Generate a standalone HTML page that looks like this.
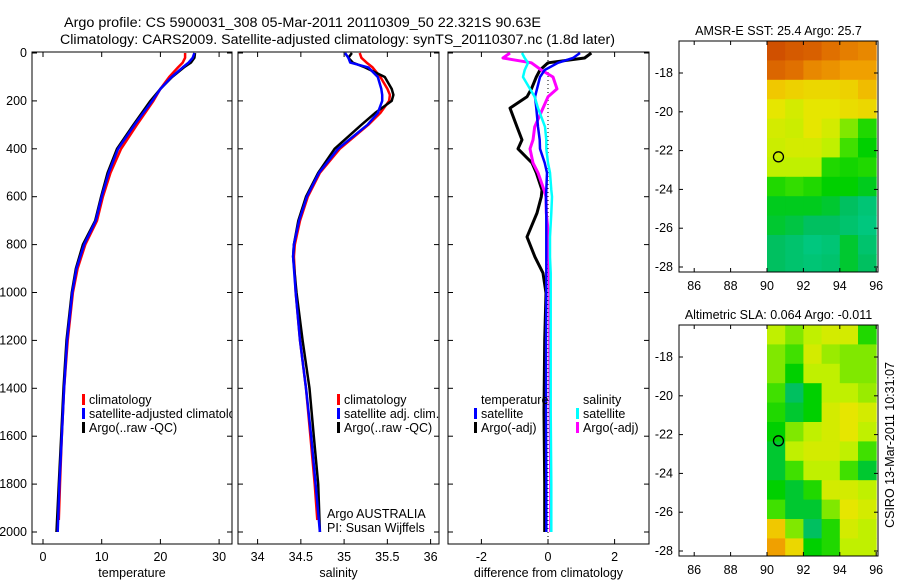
<!DOCTYPE html>
<html><head><meta charset="utf-8"><style>
html,body{margin:0;padding:0;background:#fff;}
svg{display:block;font-family:"Liberation Sans",sans-serif;font-size:12.5px;}
</style></head><body>
<svg id="fig" width="900" height="580" viewBox="0 0 900 580">
<text x="64" y="27" textLength="477" lengthAdjust="spacingAndGlyphs" font-size="13.5">Argo profile: CS 5900031_308 05-Mar-2011 20110309_50 22.321S 90.63E</text>
<text x="60" y="44" textLength="555" lengthAdjust="spacingAndGlyphs" font-size="13.5">Climatology: CARS2009. Satellite-adjusted climatology: synTS_20110307.nc (1.8d later)</text>
<g id="g"></g>
</svg>
<script>
// ---- data ----
const tDepth=[0,20,40,60,100,150,200,300,400,500,600,700,800,900,1000,1200,1400,1600,1800,2000];
const tClim=[24.2,24.2,23.8,23.0,21.5,20.0,18.8,16.0,13.3,11.5,10.2,9.2,7.2,5.9,5.1,4.2,3.6,3.2,2.9,2.7];
const tSat =[25.8,25.5,24.8,23.8,21.9,20.0,18.6,15.6,12.8,11.2,10.0,9.0,7.0,5.7,5.0,4.1,3.6,3.2,2.8,2.5];
const tArgo=[25.9,25.8,25.2,24.0,22.0,20.0,18.3,15.4,12.6,11.0,9.9,8.9,6.8,5.6,4.9,4.0,3.5,3.1,2.7,2.3];
const sDepth=[0,20,40,60,100,150,175,200,250,300,400,500,600,700,800,850,1000,1200,1400,1600,1800,1950];
const sClim=[35.18,35.2,35.26,35.33,35.42,35.5,35.53,35.52,35.42,35.28,34.95,34.72,34.58,34.49,34.43,34.42,34.44,34.49,34.56,34.61,34.66,34.69];
const sSat =[35.01,35.05,35.07,35.28,35.39,35.43,35.44,35.44,35.39,35.27,34.93,34.71,34.57,34.48,34.42,34.41,34.44,34.49,34.56,34.62,34.67,34.72];
const sArgo=[35.09,35.05,35.1,35.24,35.47,35.55,35.57,35.55,35.36,35.2,34.89,34.7,34.56,34.47,34.42,34.41,34.45,34.52,34.6,34.65,34.7,34.72];
const dDepth=[0,21,41,71,100,150,183,230,308,363,400,459,500,572,600,668,768,852,919,1002,1200,1500,1800,2000];
const dTsat=[0.96,0.75,0.3,-0.1,-0.24,-0.33,-0.39,-0.35,-0.3,-0.25,-0.24,-0.1,-0.03,-0.05,-0.06,-0.05,-0.05,-0.05,-0.05,-0.05,-0.06,-0.06,-0.05,-0.05];
const dTargo=[1.3,1.1,0.0,-0.24,-0.35,-0.5,-0.63,-1.14,-0.93,-0.78,-0.9,-0.48,-0.35,-0.18,-0.2,-0.33,-0.63,-0.39,-0.15,-0.06,-0.1,-0.12,-0.1,-0.1];
const dSsat=[-0.78,-0.7,-0.6,-0.7,-0.75,-0.54,-0.4,-0.3,-0.09,-0.05,-0.05,0.0,0.06,0.1,0.12,0.1,0.06,0.06,0.08,0.08,0.08,0.08,0.1,0.1];
const dSargo=[-1.14,-1.35,-0.5,-0.2,0.15,0.27,0.0,-0.15,-0.4,-0.45,-0.54,-0.45,-0.3,-0.12,-0.06,-0.05,0.02,0.03,0.04,0.05,0.05,0.06,0.08,0.08];
const depthTicks=[0,200,400,600,800,1000,1200,1400,1600,1800,2000];
const tTicks=[0,10,20,30];
const sTicks=[34,34.5,35,35.5,36];
const dTicks=[-2,0,2];
const latTicks=[-18,-20,-22,-24,-26,-28];
const lonTicks=[86,88,90,92,94,96];
const sstGrid=[
[0.95,0.92,0.9,0.85,0.82,0.8],[0.88,0.85,0.8,0.78,0.75,0.75],[0.65,0.62,0.6,0.6,0.62,0.68],
[0.55,0.5,0.55,0.55,0.58,0.6],[0.5,0.48,0.55,0.5,0.4,0.3],[0.48,0.5,0.5,0.45,0.35,0.25],
[0.45,0.45,0.45,0.3,0.28,0.3],[0.3,0.33,0.3,0.25,0.25,0.22],[0.22,0.22,0.22,0.2,0.15,0.1],
[0.2,0.18,0.15,0.15,0.12,0.08],[0.15,0.12,0.08,0.1,0.2,0.12],[0.15,0.12,0.1,0.12,0.2,0.15]];
const slaGrid=[
[0.45,0.4,0.45,0.5,0.5,0.3],[0.4,0.35,0.5,0.42,0.4,0.4],[0.4,0.25,0.45,0.45,0.4,0.4],
[0.35,0.15,0.25,0.45,0.45,0.42],[0.3,0.2,0.25,0.5,0.55,0.5],[0.25,0.4,0.45,0.5,0.55,0.45],
[0.2,0.45,0.5,0.5,0.45,0.35],[0.2,0.35,0.45,0.45,0.35,0.2],[0.25,0.2,0.3,0.5,0.5,0.45],
[0.35,0.2,0.2,0.4,0.55,0.5],[0.65,0.4,0.15,0.3,0.5,0.45],[0.75,0.6,0.25,0.3,0.45,0.45]];
const argoLat=-22.32, argoLon=90.63;

// ---- helpers ----
const NS='http://www.w3.org/2000/svg';
const G=document.getElementById('g');
function mk(tag,attrs,parent){const e=document.createElementNS(NS,tag);for(const k in attrs)e.setAttribute(k,attrs[k]);(parent||G).appendChild(e);return e;}
const yTop=52,yBot=544;
const yD=d=>53+d*(479/2000);
function panel(name,x0,x1,xs,ticks,fmt,label,showY){
  const g=mk('g',{});
  
  
  const r=mk('rect',{x:x0,y:yTop,width:x1-x0,height:yBot-yTop,fill:'none',stroke:'#000','stroke-width':1},g);
  
  
  depthTicks.forEach(d=>{const y=yD(d);
    mk('line',{x1:x0,x2:x0+5,y1:y,y2:y,stroke:'#000'},g);mk('line',{x1:x1-5,x2:x1,y1:y,y2:y,stroke:'#000'},g);
    if(showY){const t=mk('text',{x:x0-5,y:y+4,'text-anchor':'end'},g);t.textContent=d;
      
      }
  });
  ticks.forEach(v=>{const x=xs(v);
    mk('line',{x1:x,x2:x,y1:yTop,y2:yTop+5,stroke:'#000'},g);mk('line',{x1:x,x2:x,y1:yBot-5,y2:yBot,stroke:'#000'},g);
    const t=mk('text',{x:x,y:561,'text-anchor':'middle'},g);t.textContent=fmt(v);
    
    
  });
  const l=mk('text',{x:(x0+x1)/2,y:577,'text-anchor':'middle'},g);l.textContent=label;
  
  
  const cp=mk('clipPath',{id:'cp-'+name},g);mk('rect',{x:x0,y:yTop,width:x1-x0,height:yBot-yTop},cp);
  const inner=mk('g',{'clip-path':'url(#cp-'+name+')'},g);
  return inner;
}
function line(par,xs,vals,depths,color,w,name){
  const p=mk('polyline',{points:vals.map((v,i)=>xs(v).toFixed(1)+','+yD(depths[i]).toFixed(1)).join(' '),fill:'none',stroke:color,'stroke-width':w,'stroke-linejoin':'round'},par);
  
  
}
function legend(par,x,y,color,text,name){
  if(color)mk('rect',{x:x,y:y-10,width:3,height:11,fill:color},par);
  const t=mk('text',{x:x+(color?7:0),y:y},par);t.textContent=text;
  
  
}

// ---- panel 1 temperature ----
const xT=v=>43+v*5.87;
const p1=panel('temperature-panel',32,232,xT,tTicks,v=>v,'temperature',true);
line(p1,xT,tClim,tDepth.map((d,i)=>i==tDepth.length-1?1950:d),'#f00',2.5,'temp-climatology-line');
line(p1,xT,tArgo,tDepth,'#000',2.5,'temp-argo-line');
line(p1,xT,tSat,tDepth,'#00f',2.5,'temp-satellite-line');
legend(p1,82,404,'#f00','climatology','legend-climatology');
legend(p1,82,418,'#00f','satellite-adjusted climatology','legend-satellite-adjusted');
legend(p1,82,432,'#000','Argo(..raw -QC)','legend-argo');

// ---- panel 2 salinity ----
const xS=v=>257.6+(v-34)*86.5;
const p2=panel('salinity-panel',238,439,xS,sTicks,v=>v,'salinity',false);
line(p2,xS,sClim,sDepth,'#f00',2.5,'sal-climatology-line');
line(p2,xS,sArgo,sDepth.map((d,i)=>i==sDepth.length-1?2000:d),'#000',2.5,'sal-argo-line');
line(p2,xS,sSat,sDepth.map((d,i)=>i==sDepth.length-1?2000:d),'#00f',2.5,'sal-satellite-line');
legend(p2,337,404,'#f00','climatology','legend-climatology');
legend(p2,337,418,'#00f','satellite adj. clim.','legend-satellite-adj');
legend(p2,337,432,'#000','Argo(..raw -QC)','legend-argo');
legend(p2,327,518,null,'Argo AUSTRALIA','argo-australia-label');
legend(p2,327,532,null,'PI: Susan Wijffels','pi-label');

// ---- panel 3 differences ----
const xDf=v=>548+v*33.3;
const p3=panel('difference-panel',448,649,xDf,dTicks,v=>v,'difference from climatology',false);
mk('line',{x1:xDf(0),x2:xDf(0),y1:yTop,y2:yBot,stroke:'#000','stroke-dasharray':'1,3'},p3);
line(p3,xDf,dTargo,dDepth,'#000',3,'diff-temp-argo-line');
line(p3,xDf,dSargo,dDepth,'#f0f',3,'diff-sal-argo-line');
line(p3,xDf,dTsat,dDepth,'#00f',2.5,'diff-temp-satellite-line');
line(p3,xDf,dSsat,dDepth,'#0ff',2.5,'diff-sal-satellite-line');
legend(p3,481,404,null,'temperature','legend-temperature-header');
legend(p3,474,418,'#00f','satellite','legend-temp-satellite');
legend(p3,474,432,'#000','Argo(-adj)','legend-temp-argo');
legend(p3,583,404,null,'salinity','legend-salinity-header');
legend(p3,576,418,'#0ff','satellite','legend-sal-satellite');
legend(p3,576,432,'#f0f','Argo(-adj)','legend-sal-argo');

// ---- maps ----
const stops=[[0,[0,208,160]],[0.15,[0,192,96]],[0.25,[0,208,0]],[0.35,[64,224,0]],[0.45,[192,240,0]],[0.55,[230,230,0]],[0.65,[240,200,0]],[0.75,[240,160,0]],[0.85,[224,112,0]],[1,[200,64,0]]];
function col(v){for(let i=1;i<stops.length;i++){if(v<=stops[i][0]){const a=stops[i-1],b=stops[i],t=(v-a[0])/(b[0]-a[0]);return 'rgb('+a[1].map((c,k)=>Math.round(c+(b[1][k]-c)*t)).join(',')+')';}}return 'rgb(200,64,0)';}
function map(name,top,title,grid){
  const x0=679,x1=878,bot=top+231;
  const lat=v=>top+(-16.35-v)*19.4*(231/231);
  const lon=v=>767+(v-90)*18.2;
  const g=mk('g',{});
  
  
  const t=mk('text',{x:(x0+x1)/2,y:top-6,'text-anchor':'middle'},g);t.textContent=title;
  
  
  grid.forEach((row,r)=>row.forEach((v,c)=>{
    const yA=lat(-16.35-r),yB=Math.min(lat(-16.35-r-1),bot);
    const xA=lon(90+c),xB=Math.min(lon(91+c),x1);
    const cell=mk('rect',{x:xA,y:yA,width:xB-xA+0.5,height:yB-yA+0.5,fill:col(v)},g);
    
    
  }));
  mk('rect',{x:x0,y:top,width:x1-x0,height:bot-top,fill:'none',stroke:'#000'},g);
  latTicks.forEach(v=>{const y=lat(v);mk('line',{x1:x0,x2:x0+4,y1:y,y2:y,stroke:'#000'},g);mk('line',{x1:x1-4,x2:x1,y1:y,y2:y,stroke:'#000'},g);
    const l=mk('text',{x:x0-6,y:y+4,'text-anchor':'end'},g);l.textContent=v;
    
    });
  lonTicks.forEach(v=>{const x=lon(v);mk('line',{x1:x,x2:x,y1:top,y2:top+4,stroke:'#000'},g);mk('line',{x1:x,x2:x,y1:bot-4,y2:bot,stroke:'#000'},g);
    const l=mk('text',{x:x,y:bot+18,'text-anchor':'middle'},g);l.textContent=v;
    
    });
  const c=mk('circle',{cx:lon(argoLon),cy:lat(argoLat),r:5,fill:'none',stroke:'#000','stroke-width':1.3},g);
  
  
}
map('sst-map',41,'AMSR-E SST: 25.4 Argo: 25.7',sstGrid);
map('sla-map',325,'Altimetric SLA: 0.064 Argo: -0.011',slaGrid);
const cs=mk('text',{x:0,y:0,transform:'translate(894,445) rotate(-90)','text-anchor':'middle'});
cs.textContent='CSIRO 13-Mar-2011 10:31:07';


</script>
</body></html>
